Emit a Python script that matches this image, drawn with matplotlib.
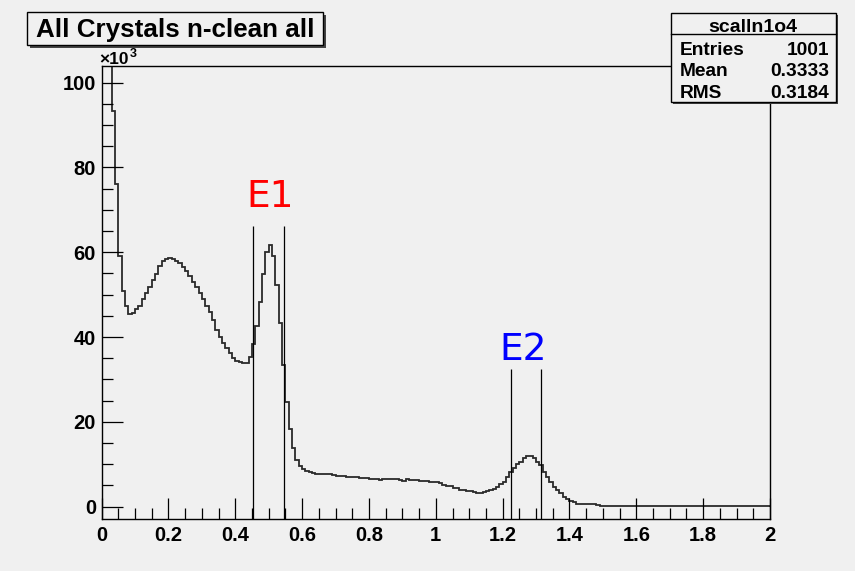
import numpy as np
import matplotlib
matplotlib.use("Agg")
import matplotlib.pyplot as plt
from matplotlib.patches import Rectangle
from matplotlib.lines import Line2D
from matplotlib.ticker import MultipleLocator

# histogram: 200 bins of width 0.01 between 0 and 2, contents in units of 1e3
bin_lo, bin_hi, n_bins = 0.0, 2.0, 200
counts_k = [
    180.0, 140.0, 112.0, 93.2, 76.1, 59.1, 50.9, 47.2, 45.5, 45.6,
    46.5, 47.2, 48.9, 50.3, 51.7, 53.5, 54.8, 56.7, 58.0, 58.4,
    58.6, 58.3, 58.0, 57.4, 56.5, 55.5, 54.4, 52.9, 51.8, 50.5,
    48.9, 47.2, 46.0, 44.0, 41.7, 40.1, 38.5, 37.3, 36.2, 35.0,
    34.4, 34.2, 33.8, 33.9, 35.2, 38.3, 42.6, 48.2, 54.8, 60.1,
    61.7, 59.1, 52.3, 43.4, 33.4, 24.7, 18.2, 13.9, 11.1, 9.6,
    8.8, 8.5, 8.2, 8.0, 7.8, 7.8, 7.7, 7.6, 7.6, 7.5,
    7.3, 7.3, 7.2, 7.0, 7.0, 7.0, 6.9, 6.7, 6.7, 6.7,
    6.6, 6.6, 6.6, 6.2, 6.5, 6.4, 6.4, 6.4, 6.4, 6.3,
    6.1, 6.4, 6.2, 6.2, 6.2, 6.1, 6.1, 6.0, 5.9, 5.8,
    5.7, 5.5, 5.2, 4.9, 4.8, 4.5, 4.3, 4.0, 3.9, 3.7,
    3.6, 3.4, 3.3, 3.3, 3.5, 3.7, 4.0, 4.2, 4.6, 5.3,
    5.8, 7.0, 8.2, 9.0, 10.0, 10.6, 11.4, 11.9, 11.9, 11.4,
    10.6, 9.8, 8.2, 7.0, 5.8, 4.6, 3.9, 3.1, 2.3, 1.7,
    1.3, 1.0, 0.7, 0.7, 0.5, 0.5, 0.5, 0.5, 0.4, 0.2,
] + [0.1] * 50

# energy windows (x positions of the marker lines, line height) and labels
e1_window = [0.454, 0.547]
e1_height = 66.3
e2_window = [1.224, 1.315]
e2_height = 32.4
e1_label = ("E1", 0.504, 70.7)
e2_label = ("E2", 1.262, 34.6)

title = "All Crystals n-clean all"
stats_name = "scalln1o4"
stats_rows = [("Entries", "1001"), ("Mean", "0.3333"), ("RMS", "0.3184")]

W, H = 855, 571
bg = "#f0f0f0"
bold = dict(family="Liberation Sans", weight="bold")

fig = plt.figure(figsize=(W / 100, H / 100), dpi=100, facecolor=bg)


def fx(x):
    return x / W


def fy(y):
    return 1 - y / H


ax = fig.add_axes([fx(101.6), fy(519.3), fx(770) - fx(101.6), fy(65.7) - fy(519.3)])
ax.set_facecolor(bg)

edges = np.linspace(bin_lo, bin_hi, n_bins + 1)
ax.stairs(counts_k, edges, color="#2a2a2a", lw=1.3)

ax.vlines(e1_window, -5, e1_height, color="black", lw=0.9)
ax.vlines(e2_window, -5, e2_height, color="black", lw=0.9)
ax.text(e1_label[1], e1_label[2], e1_label[0], color="red", fontsize=27,
        family="DejaVu Sans", ha="center", va="baseline")
ax.text(e2_label[1], e2_label[2], e2_label[0], color="blue", fontsize=27,
        family="DejaVu Sans", ha="center", va="baseline")

ax.set_xlim(0, 2)
ax.set_ylim(-3.0, 104.0)
ax.xaxis.set_minor_locator(MultipleLocator(0.05))
ax.yaxis.set_major_locator(MultipleLocator(20))
ax.yaxis.set_minor_locator(MultipleLocator(5))
xt = np.arange(0, 2.01, 0.2)
ax.set_xticks(xt)
ax.set_xticklabels([f"{v:g}" for v in np.round(xt, 1)])
ax.tick_params(which="both", direction="in", top=False, right=False, width=0.9, color="black")
ax.tick_params(which="major", length=15, labelsize=14.5)
ax.tick_params(axis="x", which="major", pad=5)
ax.tick_params(axis="y", which="major", pad=4)
ax.tick_params(which="minor", length=8)
for lab in ax.get_xticklabels() + ax.get_yticklabels():
    lab.set_fontfamily("Liberation Sans")
    lab.set_fontweight("bold")
for s in ax.spines.values():
    s.set_linewidth(1.0)
    s.set_color("black")

# x10^3 multiplier
fig.text(fx(99), fy(63.5), "\u00d710", fontsize=12.5, ha="left", va="baseline", **bold)
fig.text(fx(129.5), fy(57), "3", fontsize=9, ha="left", va="baseline", **bold)


def pave(x0, y0, x1, y1, shadow=3):
    fig.add_artist(Rectangle((fx(x0 + shadow), fy(y1 + shadow)), fx(x1 - x0), fy(y0) - fy(y1),
                             transform=fig.transFigure, facecolor="#444444", edgecolor="none"))
    fig.add_artist(Rectangle((fx(x0), fy(y1)), fx(x1 - x0), fy(y0) - fy(y1),
                             transform=fig.transFigure, facecolor=bg, edgecolor="black", lw=1.0))


# title box
pave(26.7, 11.7, 323, 45)
fig.text(fx(175), fy(37), title, fontsize=18.7, ha="center", va="baseline", **bold)

# stats box
pave(671, 12.7, 836, 101.5, shadow=2)
fig.add_artist(Line2D([fx(671), fx(836)], [fy(34.3), fy(34.3)], transform=fig.transFigure,
                      color="black", lw=1.0))
fig.text(fx(753), fy(31.5), stats_name, fontsize=14, ha="center", va="baseline", **bold)
for i, (name, val) in enumerate(stats_rows):
    yb = 55 + i * 21.5
    fig.text(fx(680), fy(yb), name, fontsize=13.8, ha="left", va="baseline", **bold)
    fig.text(fx(829), fy(yb), val, fontsize=13.8, ha="right", va="baseline", **bold)

fig.savefig("out.png", dpi=100, facecolor=bg)
